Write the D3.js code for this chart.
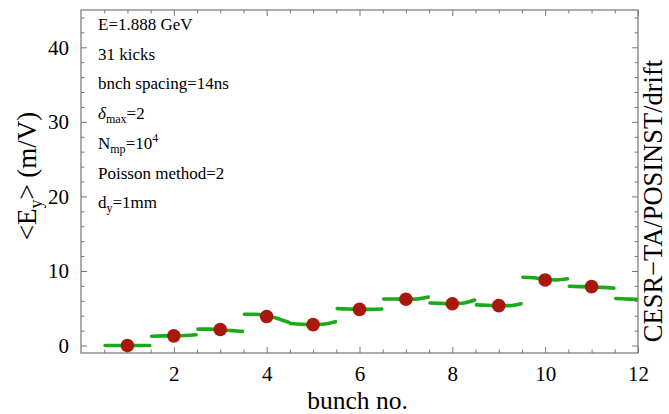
<!DOCTYPE html>
<html>
<head>
<meta charset="utf-8">
<script src="https://cdn.jsdelivr.net/npm/d3@7"></script>
<style>
  body { margin: 0; background: #fff; }
  svg { display: block; font-family: 'Liberation Serif', 'Times New Roman', serif; }
  .axis path { stroke: #777; }
  .axis line { stroke: #777; }
</style>
</head>
<body>
<svg id="chart" width="669" height="414"></svg>
<script>
// bunch numbers with a red marker
const bunches = [1, 2, 3, 4, 5, 6, 7, 8, 9, 10, 11];
const bunchField = [0, 1.3, 2.15, 3.9, 2.8, 4.85, 6.2, 5.6, 5.35, 8.8, 7.9];

// green traces: one short run per bunch, sampled at these offsets from the bunch number
const traceBunches = [1, 2, 3, 4, 5, 6, 7, 8, 9, 10, 11, 12];
const traceOffsets = [-0.48, -0.25, 0, 0.25, 0.48];
const traceValues = [
  [0, 0, 0, 0, 0],
  [1.25, 1.3, 1.3, 1.35, 1.45],
  [2.2, 2.2, 2.13, 2.0, 1.9],
  [4.2, 4.2, 3.95, 3.6, 3.1],
  [2.95, 2.85, 2.8, 2.9, 3.2],
  [4.95, 4.9, 4.85, 4.85, 4.9],
  [6.25, 6.25, 6.2, 6.25, 6.5],
  [5.7, 5.65, 5.6, 5.7, 6.1],
  [5.45, 5.4, 5.35, 5.35, 5.6],
  [9.15, 9.1, 8.85, 8.8, 8.95],
  [7.95, 7.9, 7.85, 7.8, 7.7],
  [6.3, 6.25, 6.2, 6.2, 6.2],
];

const xTicks = [2, 4, 6, 8, 10, 12];
const yTicks = [0, 10, 20, 30, 40];

const margin = { top: 10, right: 31, bottom: 61, left: 81 };
const width = 669 - margin.left - margin.right;
const height = 414 - margin.top - margin.bottom;

const svg = d3.select('#chart');

const x = d3.scaleLinear().domain([0, 12]).range([0, width]);
const y = d3.scaleLinear().domain([-1, 45]).range([height, 0]);

const g = svg.append('g').attr('transform', `translate(${margin.left},${margin.top})`);

g.append('clipPath')
  .attr('id', 'clip')
  .append('rect')
  .attr('width', width)
  .attr('height', height);

// minor ticks: every 0.5 bunch, every 2 m/V
const xMinor = d3.range(0.5, 12, 0.5).filter(v => xTicks.indexOf(v) < 0);
const yMinor = d3.range(0, 45, 2).filter(v => yTicks.indexOf(v) < 0);

function styleAxis(sel) {
  sel.attr('class', 'axis')
    .attr('font-family', "'Liberation Serif', 'Times New Roman', serif")
    .attr('font-size', 21);
  sel.select('.domain').remove();
  sel.selectAll('text').attr('fill', '#000');
}

g.append('g')
  .attr('transform', `translate(0,${height})`)
  .call(d3.axisBottom(x).tickValues(xTicks).tickSize(-6).tickPadding(13).tickFormat(d3.format('d')))
  .call(styleAxis);
g.append('g')
  .attr('transform', `translate(0,${height})`)
  .call(d3.axisBottom(x).tickValues(xMinor).tickSize(-3.5).tickFormat(''))
  .call(styleAxis);
g.append('g')
  .call(d3.axisTop(x).tickValues(xTicks).tickSize(-6).tickFormat(''))
  .call(styleAxis);
g.append('g')
  .call(d3.axisTop(x).tickValues(xMinor).tickSize(-3.5).tickFormat(''))
  .call(styleAxis);

g.append('g')
  .call(d3.axisLeft(y).tickValues(yTicks).tickSize(-6).tickPadding(12).tickFormat(d3.format('d')))
  .call(styleAxis);
g.append('g')
  .call(d3.axisLeft(y).tickValues(yMinor).tickSize(-3.5).tickFormat(''))
  .call(styleAxis);
g.append('g')
  .attr('transform', `translate(${width},0)`)
  .call(d3.axisRight(y).tickValues(yTicks).tickSize(-6).tickFormat(''))
  .call(styleAxis);
g.append('g')
  .attr('transform', `translate(${width},0)`)
  .call(d3.axisRight(y).tickValues(yMinor).tickSize(-3.5).tickFormat(''))
  .call(styleAxis);

g.append('rect')
  .attr('width', width)
  .attr('height', height)
  .attr('fill', 'none')
  .attr('stroke', '#777')
  .attr('stroke-width', 1.2);

// traces
const line = d3.line()
  .curve(d3.curveMonotoneX)
  .x(d => x(d[0]))
  .y(d => y(d[1]));

const traces = traceBunches.map((b, i) => traceOffsets.map((o, j) => [b + o, traceValues[i][j]]));

g.append('g')
  .attr('clip-path', 'url(#clip)')
  .selectAll('path')
  .data(traces)
  .join('path')
  .attr('fill', 'none')
  .attr('stroke', '#1aab1a')
  .attr('stroke-width', 3.6)
  .attr('stroke-linecap', 'round')
  .attr('d', line);

g.append('g')
  .selectAll('circle')
  .data(bunches)
  .join('circle')
  .attr('cx', d => x(d))
  .attr('cy', (d, i) => y(bunchField[i]))
  .attr('r', 6.8)
  .attr('fill', '#a8180c');

// parameter notes
const notes = g.append('g').attr('font-size', 17).attr('fill', '#000');
const noteX = 17;
const noteY = d => 20 + d * 29.7;

notes.append('text').attr('x', noteX).attr('y', noteY(0)).text('E=1.888 GeV');
notes.append('text').attr('x', noteX).attr('y', noteY(1)).text('31 kicks');
notes.append('text').attr('x', noteX).attr('y', noteY(2)).text('bnch spacing=14ns');

const t3 = notes.append('text').attr('x', noteX).attr('y', noteY(3));
t3.append('tspan').attr('font-style', 'italic').text('δ');
t3.append('tspan').attr('font-size', 12).attr('dy', 4).text('max');
t3.append('tspan').attr('dy', -4).text('=2');

const t4 = notes.append('text').attr('x', noteX).attr('y', noteY(4));
t4.append('tspan').text('N');
t4.append('tspan').attr('font-size', 12).attr('dy', 4).text('mp');
t4.append('tspan').attr('dy', -4).text('=10');
t4.append('tspan').attr('font-size', 12).attr('dy', -7).text('4');

notes.append('text').attr('x', noteX).attr('y', noteY(5)).text('Poisson  method=2');

const t6 = notes.append('text').attr('x', noteX).attr('y', noteY(6));
t6.append('tspan').text('d');
t6.append('tspan').attr('font-size', 12).attr('dy', 4).text('y');
t6.append('tspan').attr('dy', -4).text('=1mm');

// axis titles
svg.append('text')
  .attr('x', margin.left + x(6) - 2)
  .attr('y', 408.5)
  .attr('text-anchor', 'middle')
  .attr('font-size', 25.5)
  .text('bunch no.');

const yt = svg.append('text')
  .attr('transform', 'translate(36,176) rotate(-90)')
  .attr('text-anchor', 'middle')
  .attr('font-size', 27);
yt.append('tspan').text('<E');
yt.append('tspan').attr('font-size', 18).attr('dy', 6).text('y');
yt.append('tspan').attr('dy', -6).text('> (m/V)');

svg.append('text')
  .attr('transform', 'translate(662,201) rotate(-90)')
  .attr('text-anchor', 'middle')
  .attr('font-size', 26.5)
  .text('CESR\u2212TA/POSINST/drift');
</script>
</body>
</html>
